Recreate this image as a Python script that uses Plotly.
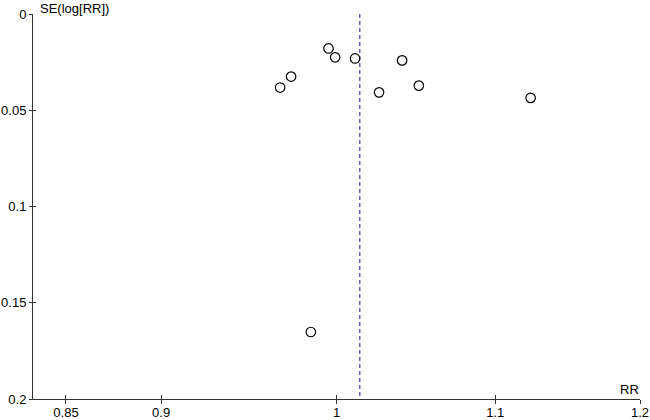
import math
import plotly.graph_objects as go

# Study estimates
rr_values = [0.9952, 0.9992, 1.0112, 1.0402, 0.9731, 0.9667, 1.0507, 1.0259, 1.1237, 0.9847]
se_values = [0.0179, 0.0225, 0.0231, 0.0241, 0.0325, 0.0382, 0.0372, 0.0407, 0.0436, 0.1652]
pooled_rr = 1.0141

x_ticks = [0.85, 0.9, 1, 1.1, 1.2]
x_tick_labels = ["0.85", "0.9", "1", "1.1", "1.2"]
y_ticks = [0, 0.05, 0.1, 0.15, 0.2]
y_tick_labels = ["0", "0.05", "0.1", "0.15", "0.2"]

FONT = "Liberation Sans, Arial, sans-serif"
FS = 13
AXIS_COLOR = "#333333"

fig = go.Figure()

fig.add_trace(go.Scatter(
    x=[pooled_rr, pooled_rr], y=[0, 0.2], mode="lines",
    line=dict(color="#3c3ca8", width=1.2, dash="4px,3px"),
    hoverinfo="skip", showlegend=False,
))

fig.add_trace(go.Scatter(
    x=rr_values, y=se_values, mode="markers",
    marker=dict(symbol="circle-open", size=9.5, color="black", line=dict(width=1.2, color="black")),
    showlegend=False,
))

xr = [math.log10(1 / 1.2), math.log10(1.2)]

fig.update_layout(
    width=650, height=420,
    margin=dict(l=33, r=10, t=14, b=21),
    paper_bgcolor="white", plot_bgcolor="white",
    font=dict(family=FONT, size=FS, color="black"),
    xaxis=dict(
        type="log", range=xr, tickvals=x_ticks, ticktext=x_tick_labels, automargin=False,
        showgrid=False, zeroline=False, showline=True, linecolor=AXIS_COLOR, linewidth=1,
        ticks="outside", ticklen=4, tickcolor=AXIS_COLOR, tickwidth=1, ticklabelstandoff=-3,
        tickfont=dict(family=FONT, size=FS, color="black"),
    ),
    yaxis=dict(
        range=[0.2, 0], tickvals=y_ticks, ticktext=y_tick_labels, automargin=False,
        showgrid=False, zeroline=False, showline=True, linecolor=AXIS_COLOR, linewidth=1,
        ticks="outside", ticklen=3, tickcolor=AXIS_COLOR, tickwidth=1,
        tickfont=dict(family=FONT, size=FS, color="black"),
    ),
    xaxis2=dict(
        type="log", range=xr, tickvals=x_ticks, overlaying="x", side="bottom", automargin=False,
        showticklabels=False, showgrid=False, zeroline=False, showline=False,
        ticks="inside", ticklen=4, tickcolor=AXIS_COLOR, tickwidth=1, anchor="y",
    ),
    yaxis2=dict(
        range=[0.2, 0], tickvals=y_ticks, overlaying="y", side="left", automargin=False,
        showticklabels=False, showgrid=False, zeroline=False, showline=False,
        ticks="inside", ticklen=3, tickcolor=AXIS_COLOR, tickwidth=1, anchor="x",
    ),
    annotations=[
        dict(text="SE(log[RR])", xref="paper", yref="paper", x=0, y=1,
             xanchor="left", yanchor="middle", xshift=5, yshift=6, showarrow=False,
             font=dict(family=FONT, size=FS, color="black")),
        dict(text="RR", xref="paper", yref="paper", x=1, y=0,
             xanchor="right", yanchor="bottom", xshift=1, yshift=0, showarrow=False,
             font=dict(family=FONT, size=FS, color="black")),
    ],
)

# dummy trace to activate the secondary tick axes
fig.add_trace(go.Scatter(x=[1], y=[0.1], xaxis="x2", yaxis="y2", mode="markers",
                         marker=dict(opacity=0), hoverinfo="skip", showlegend=False))

fig.write_html("out.html",
               config={"displayModeBar": False},
               post_script="document.body.style.margin='0';document.body.style.overflow='hidden';")
